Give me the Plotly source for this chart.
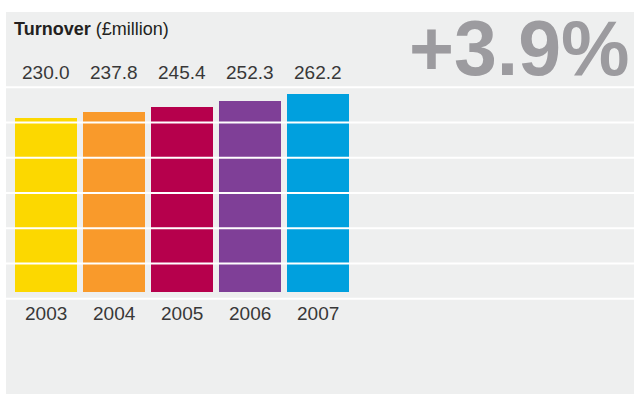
import plotly.graph_objects as go

# Turnover by year (£million)
years = ["2003", "2004", "2005", "2006", "2007"]
turnover = [230.0, 237.8, 245.4, 252.3, 262.2]
bar_colors = ["#fcd800", "#f99a2b", "#b6004c", "#7f3f97", "#00a0de"]
growth_label = "+3.9%"

W, H = 634, 394
FONT = "Liberation Sans, Arial, sans-serif"
TEXT = "#383838"


def px_x(p):
    return p / W


def px_y(p):
    return 1 - p / H


fig = go.Figure()
fig.add_trace(go.Bar(
    x=years,
    y=turnover,
    marker=dict(color=bar_colors, line=dict(width=0)),
    width=62 / 68,
    hoverinfo="x+y",
))

shapes = [
    # light grey panel
    dict(type="rect", xref="paper", yref="paper",
         x0=px_x(6), x1=1, y0=0, y1=px_y(12),
         fillcolor="#eeefef", line=dict(width=0), layer="below"),
]
# white horizontal rules across the panel
for py in [87.2, 122.5, 157.8, 193.0, 228.3, 263.6, 298.8]:
    shapes.append(dict(type="line", xref="paper", yref="paper",
                       x0=px_x(6), x1=1, y0=px_y(py), y1=px_y(py),
                       line=dict(color="white", width=2), layer="above"))

annotations = [
    dict(text="<b>Turnover</b> (£million)", xref="paper", yref="paper",
         x=px_x(12), y=px_y(29), xanchor="left", yanchor="middle",
         showarrow=False, font=dict(family=FONT, size=18, color="#231f20")),
    dict(text="<b>" + growth_label + "</b>", xref="paper", yref="paper",
         x=px_x(631), y=px_y(48), xanchor="right", yanchor="middle",
         showarrow=False,
         font=dict(family=FONT, size=77, color="#9c9b9f")),
]
# value labels above the bars and year labels beneath them
for i, (yr, v) in enumerate(zip(years, turnover)):
    annotations.append(dict(text=f"{v:.1f}", x=i, xref="x", yref="paper",
                            y=px_y(73), yanchor="middle", showarrow=False,
                            font=dict(family=FONT, size=19, color=TEXT)))
    annotations.append(dict(text=yr, x=i, xref="x", yref="paper",
                            y=px_y(313), yanchor="middle", showarrow=False,
                            font=dict(family=FONT, size=19, color=TEXT)))

# scale: 0.7551 px per £million, baseline at 292 px
scale = 0.7551
base = 292
fig.update_layout(
    width=W, height=H,
    margin=dict(l=0, r=0, t=0, b=0),
    paper_bgcolor="white",
    plot_bgcolor="rgba(0,0,0,0)",
    showlegend=False,
    bargap=0,
    xaxis=dict(type="category", range=[-46 / 68, (W - 46) / 68],
               visible=False, fixedrange=True),
    yaxis=dict(range=[-(H - base) / scale, base / scale], visible=False,
               fixedrange=True),
    shapes=shapes,
    annotations=annotations,
)

fig.write_html("out.html")
